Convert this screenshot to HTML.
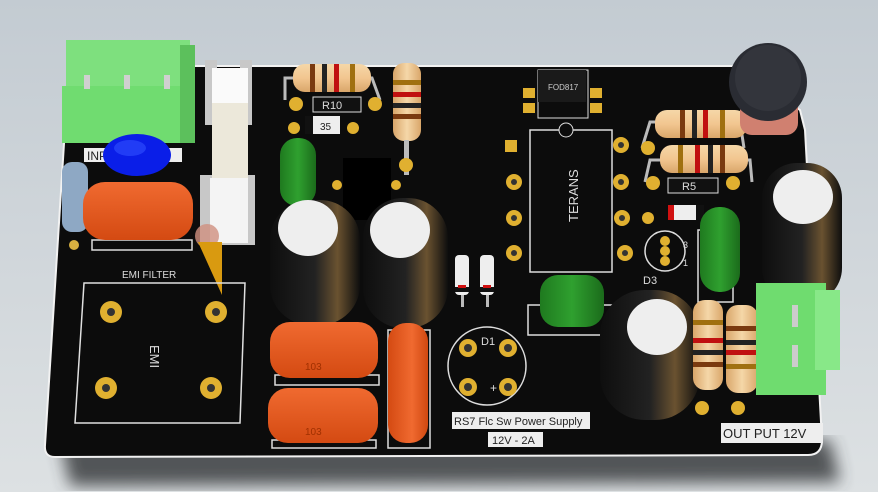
<!DOCTYPE html>
<html><head><meta charset="utf-8"><style>
html,body{margin:0;padding:0;width:878px;height:492px;overflow:hidden;background:#cdd3d8}
svg{display:block}
text{font-family:"Liberation Sans",sans-serif}
</style></head><body>
<svg width="878" height="492" viewBox="0 0 878 492" xmlns="http://www.w3.org/2000/svg">
<defs>
<linearGradient id="bg" x1="0" y1="0" x2="0" y2="1"><stop offset="0" stop-color="#c3cbd2"/><stop offset="1" stop-color="#dde1e3"/></linearGradient>
<linearGradient id="org" x1="0" y1="0" x2="0" y2="1"><stop offset="0" stop-color="#f06a30"/><stop offset="1" stop-color="#d44a12"/></linearGradient>
<linearGradient id="orgv" x1="0" y1="0" x2="1" y2="0"><stop offset="0" stop-color="#d44a12"/><stop offset=".6" stop-color="#f06a30"/><stop offset="1" stop-color="#d04810"/></linearGradient>
<linearGradient id="grn" x1="0" y1="0" x2="1" y2="0"><stop offset="0" stop-color="#1f7a1f"/><stop offset=".5" stop-color="#2fa02f"/><stop offset="1" stop-color="#1b6b1b"/></linearGradient>
<linearGradient id="res" x1="0" y1="0" x2="0" y2="1"><stop offset="0" stop-color="#f5d7a8"/><stop offset=".5" stop-color="#f2c690"/><stop offset="1" stop-color="#d9a66a"/></linearGradient>
<linearGradient id="resv" x1="0" y1="0" x2="1" y2="0"><stop offset="0" stop-color="#d9a66a"/><stop offset=".5" stop-color="#f5d7a8"/><stop offset="1" stop-color="#d9a66a"/></linearGradient>
<linearGradient id="cap" x1="0" y1="0" x2="1" y2="0"><stop offset="0" stop-color="#0e0e0e"/><stop offset=".5" stop-color="#222"/><stop offset=".75" stop-color="#6a5230"/><stop offset="1" stop-color="#0e0e0e"/></linearGradient>
<filter id="sh"><feGaussianBlur stdDeviation="8"/></filter>
</defs>
<rect width="878" height="492" fill="url(#bg)"/>
<path d="M60 440 L830 440 L840 482 L70 486 Z" fill="#3a3d40" filter="url(#sh)" opacity=".85"/>
<path d="M70 66 L735 66 L800 110 L805 130 L822 440 Q822 455 808 455 L55 457 Q44 457 45 445 L68 80 Z" fill="#0c0c0c" stroke="#f2f2f2" stroke-width="2"/>
<!-- left green terminal -->
<rect x="66" y="40" width="124" height="48" fill="#7ee07e"/>
<rect x="62" y="86" width="128" height="57" fill="#70dc70"/>
<rect x="180" y="45" width="15" height="98" fill="#5cc05c"/>
<rect x="84" y="75" width="6" height="14" fill="#d0d0d0"/><rect x="124" y="75" width="6" height="14" fill="#d0d0d0"/><rect x="164" y="75" width="6" height="14" fill="#d0d0d0"/>
<rect x="84" y="148" width="98" height="14" fill="#eee"/>
<text x="87" y="160" font-size="12" fill="#222">INPUT AC</text>
<ellipse cx="137" cy="155" rx="34" ry="21" fill="#0a1ee8"/>
<ellipse cx="130" cy="148" rx="16" ry="8" fill="#3050ff" opacity=".6"/>
<rect x="62" y="162" width="26" height="70" rx="10" fill="#8ea8c4"/>
<circle cx="74" cy="245" r="5" fill="#d8b040"/>
<rect x="92" y="240" width="100" height="10" fill="none" stroke="#ddd" stroke-width="1.5"/>
<rect x="83" y="182" width="110" height="58" rx="22" fill="url(#org)"/>
<!-- fuse -->
<rect x="205" y="60" width="12" height="65" fill="#c8c8c8"/><rect x="240" y="60" width="12" height="65" fill="#c8c8c8"/>
<rect x="200" y="175" width="55" height="70" fill="#c8c8c8"/>
<rect x="212" y="68" width="36" height="175" rx="6" fill="#ece8da"/>
<rect x="212" y="68" width="36" height="35" fill="#fafafa"/>
<rect x="210" y="178" width="38" height="65" fill="#f4f4f4"/>
<circle cx="207" cy="236" r="12" fill="#d09080" opacity=".8"/>
<polygon points="198,242 222,242 222,295" fill="#d99a10"/>
<!-- EMI -->
<text x="122" y="278" font-size="10" fill="#ddd">EMI FILTER</text>
<path d="M84 283 L245 283 L240 423 L75 423 Z" fill="none" stroke="#e0e0e0" stroke-width="1.5"/>
<g fill="#e0b030"><circle cx="111" cy="312" r="11"/><circle cx="216" cy="312" r="11"/><circle cx="106" cy="388" r="11"/><circle cx="211" cy="388" r="11"/></g>
<g fill="#333"><circle cx="111" cy="312" r="4"/><circle cx="216" cy="312" r="4"/><circle cx="106" cy="388" r="4"/><circle cx="211" cy="388" r="4"/></g>
<text x="0" y="0" font-size="13" fill="#ddd" transform="translate(150,345) rotate(90)">EMI</text>
<!-- R10 -->
<path d="M285 100 L285 78 L372 78 L380 100" fill="none" stroke="#bbb" stroke-width="3"/>
<rect x="293" y="64" width="78" height="28" rx="12" fill="url(#res)"/>
<rect x="310" y="64" width="5" height="28" fill="#7a3a10"/><rect x="322" y="64" width="5" height="28" fill="#222"/><rect x="334" y="64" width="5" height="28" fill="#c01010"/><rect x="350" y="64" width="5" height="28" fill="#a07010"/>
<circle cx="296" cy="104" r="7" fill="#e0b030"/><circle cx="375" cy="104" r="7" fill="#e0b030"/>
<rect x="313" y="97" width="48" height="15" fill="#111" stroke="#ddd"/><text x="322" y="109" font-size="11" fill="#ddd">R10</text>
<rect x="305" y="116" width="35" height="18" fill="#eee"/><rect x="305" y="116" width="8" height="18" fill="#111"/><text x="320" y="130" font-size="10" fill="#222">35</text>
<circle cx="294" cy="128" r="6" fill="#e0b030"/><circle cx="353" cy="128" r="6" fill="#e0b030"/>
<rect x="393" y="63" width="28" height="78" rx="11" fill="url(#resv)"/>
<rect x="393" y="80" width="28" height="5" fill="#a07010"/><rect x="393" y="92" width="28" height="5" fill="#c01010"/><rect x="393" y="103" width="28" height="5" fill="#222"/><rect x="393" y="114" width="28" height="5" fill="#7a3a10"/>
<rect x="404" y="140" width="5" height="35" fill="#bbb"/>
<circle cx="406" cy="165" r="7" fill="#e0b030"/>
<rect x="280" y="138" width="36" height="68" rx="17" fill="url(#grn)"/>
<rect x="343" y="158" width="48" height="62" fill="#000"/>
<circle cx="337" cy="185" r="5" fill="#e0b030"/><circle cx="396" cy="185" r="5" fill="#e0b030"/>
<!-- big caps left -->
<rect x="270" y="200" width="90" height="125" rx="40" fill="url(#cap)"/>
<ellipse cx="308" cy="228" rx="30" ry="28" fill="#eee"/>
<rect x="363" y="198" width="85" height="130" rx="40" fill="url(#cap)"/>
<ellipse cx="400" cy="230" rx="30" ry="28" fill="#eee"/>
<!-- orange caps -->
<rect x="275" y="375" width="104" height="10" fill="none" stroke="#ddd" stroke-width="1.5"/>
<rect x="270" y="322" width="108" height="56" rx="20" fill="url(#org)"/>
<text x="305" y="370" font-size="10" fill="#a03000">103</text>
<rect x="272" y="440" width="104" height="8" fill="none" stroke="#ddd" stroke-width="1.5"/>
<rect x="268" y="388" width="110" height="55" rx="20" fill="url(#org)"/>
<text x="305" y="435" font-size="10" fill="#a03000">103</text>
<rect x="388" y="330" width="42" height="118" fill="none" stroke="#ddd" stroke-width="1.5"/>
<rect x="388" y="323" width="40" height="120" rx="18" fill="url(#orgv)"/>
<!-- small diodes -->
<rect x="455" y="255" width="14" height="40" rx="4" fill="#eee"/><rect x="455" y="287" width="14" height="5" fill="#111"/><rect x="458" y="285" width="8" height="3" fill="#d01010"/>
<rect x="480" y="255" width="14" height="40" rx="4" fill="#eee"/><rect x="480" y="287" width="14" height="5" fill="#111"/><rect x="483" y="285" width="8" height="3" fill="#d01010"/>
<rect x="461" y="295" width="3" height="12" fill="#bbb"/><rect x="486" y="295" width="3" height="12" fill="#bbb"/>
<!-- D1 -->
<circle cx="487" cy="366" r="39" fill="none" stroke="#ddd" stroke-width="1.5"/>
<g fill="#e0b030"><circle cx="468" cy="348" r="9"/><circle cx="508" cy="348" r="9"/><circle cx="468" cy="387" r="9"/><circle cx="508" cy="387" r="9"/></g>
<g fill="#333"><circle cx="468" cy="348" r="4"/><circle cx="508" cy="348" r="4"/><circle cx="468" cy="387" r="4"/><circle cx="508" cy="387" r="4"/></g>
<text x="481" y="345" font-size="11" fill="#ddd">D1</text>
<text x="490" y="392" font-size="12" fill="#ddd">+</text>
<rect x="452" y="412" width="138" height="17" fill="#eee"/>
<text x="454" y="425" font-size="11" fill="#222">RS7 Flc Sw Power Supply</text>
<rect x="488" y="432" width="55" height="15" fill="#eee"/>
<text x="492" y="444" font-size="11" fill="#222">12V - 2A</text>
<!-- FOD817 -->
<rect x="538" y="70" width="50" height="48" fill="none" stroke="#ddd"/>
<g fill="#e0b030"><rect x="523" y="88" width="12" height="10"/><rect x="523" y="103" width="12" height="10"/><rect x="590" y="88" width="12" height="10"/><rect x="590" y="103" width="12" height="10"/></g>
<rect x="538" y="70" width="48" height="32" fill="#1a1a1a"/>
<text x="548" y="90" font-size="8" fill="#ccc">FOD817</text>
<!-- TERANS -->
<rect x="530" y="130" width="82" height="142" fill="#0c0c0c" stroke="#ddd" stroke-width="1.5"/>
<circle cx="566" cy="130" r="7" fill="#0c0c0c" stroke="#ddd"/>
<text font-size="13" fill="#ddd" transform="translate(578,222) rotate(-90)">TERANS</text>
<rect x="505" y="140" width="12" height="12" fill="#e0b030"/>
<g fill="#e0b030"><circle cx="514" cy="182" r="8"/><circle cx="514" cy="218" r="8"/><circle cx="514" cy="253" r="8"/><circle cx="621" cy="145" r="8"/><circle cx="621" cy="182" r="8"/><circle cx="622" cy="218" r="8"/><circle cx="625" cy="253" r="8"/></g>
<g fill="#333"><circle cx="514" cy="182" r="3"/><circle cx="514" cy="218" r="3"/><circle cx="514" cy="253" r="3"/><circle cx="621" cy="145" r="3"/><circle cx="621" cy="182" r="3"/><circle cx="622" cy="218" r="3"/><circle cx="625" cy="253" r="3"/></g>
<rect x="528" y="305" width="85" height="30" fill="none" stroke="#ddd" stroke-width="1.5"/>
<rect x="540" y="275" width="64" height="52" rx="18" fill="url(#grn)"/>
<!-- resistors top right -->
<path d="M642 148 L650 122 L740 122 L744 148" fill="none" stroke="#bbb" stroke-width="3"/>
<rect x="655" y="110" width="92" height="28" rx="12" fill="url(#res)"/>
<rect x="680" y="110" width="5" height="28" fill="#7a3a10"/><rect x="692" y="110" width="5" height="28" fill="#222"/><rect x="703" y="110" width="5" height="28" fill="#c01010"/><rect x="720" y="110" width="5" height="28" fill="#a07010"/>
<circle cx="648" cy="148" r="7" fill="#e0b030"/>
<path d="M645 182 L650 160 L750 160 L752 182" fill="none" stroke="#bbb" stroke-width="3"/>
<rect x="660" y="145" width="88" height="28" rx="12" fill="url(#res)"/>
<rect x="678" y="145" width="5" height="28" fill="#a07010"/><rect x="695" y="145" width="5" height="28" fill="#c01010"/><rect x="708" y="145" width="5" height="28" fill="#222"/><rect x="720" y="145" width="5" height="28" fill="#7a3a10"/>
<circle cx="653" cy="183" r="7" fill="#e0b030"/><circle cx="733" cy="183" r="7" fill="#e0b030"/>
<rect x="668" y="178" width="50" height="15" fill="#111" stroke="#ddd"/><text x="682" y="190" font-size="11" fill="#ddd">R5</text>
<rect x="668" y="205" width="35" height="15" rx="3" fill="#eee"/><rect x="668" y="205" width="6" height="15" fill="#d01010"/><rect x="696" y="205" width="8" height="15" fill="#111"/>
<circle cx="648" cy="218" r="6" fill="#e0b030"/>
<circle cx="665" cy="251" r="20" fill="none" stroke="#ddd" stroke-width="1.5"/>
<g fill="#e0b030"><circle cx="665" cy="241" r="5"/><circle cx="665" cy="251" r="5"/><circle cx="665" cy="261" r="5"/></g>
<text x="643" y="284" font-size="11" fill="#ddd">D3</text>
<text x="683" y="248" font-size="9" fill="#ddd">3</text><text x="683" y="266" font-size="9" fill="#ddd">1</text>
<!-- inductor -->
<rect x="740" y="95" width="58" height="40" rx="12" fill="#d08070"/>
<circle cx="768" cy="82" r="39" fill="#2a2c33"/>
<circle cx="768" cy="78" r="33" fill="#33353c"/>
<!-- right big cap -->
<rect x="762" y="163" width="80" height="140" rx="35" fill="url(#cap)"/>
<ellipse cx="803" cy="197" rx="30" ry="27" fill="#eee"/>
<rect x="698" y="230" width="35" height="72" fill="none" stroke="#ddd" stroke-width="1.5"/>
<rect x="700" y="207" width="40" height="85" rx="19" fill="url(#grn)"/>
<rect x="600" y="290" width="100" height="130" rx="45" fill="url(#cap)"/>
<ellipse cx="657" cy="327" rx="30" ry="28" fill="#eee"/>
<!-- vertical resistors -->
<rect x="693" y="300" width="30" height="90" rx="12" fill="url(#resv)"/>
<rect x="693" y="320" width="30" height="5" fill="#a07010"/><rect x="693" y="338" width="30" height="5" fill="#c01010"/><rect x="693" y="350" width="30" height="5" fill="#222"/><rect x="693" y="362" width="30" height="5" fill="#7a3a10"/>
<rect x="726" y="305" width="32" height="88" rx="12" fill="url(#resv)"/>
<rect x="726" y="326" width="32" height="5" fill="#7a3a10"/><rect x="726" y="340" width="32" height="5" fill="#222"/><rect x="726" y="350" width="32" height="5" fill="#c01010"/><rect x="726" y="364" width="32" height="5" fill="#a07010"/>
<circle cx="702" cy="408" r="7" fill="#e0b030"/><circle cx="738" cy="408" r="7" fill="#e0b030"/>
<rect x="756" y="283" width="70" height="112" fill="#6fdc6f"/>
<rect x="815" y="290" width="25" height="80" fill="#88e888"/>
<rect x="792" y="305" width="6" height="22" fill="#ccc"/><rect x="792" y="345" width="6" height="22" fill="#ccc"/>
<rect x="721" y="423" width="102" height="20" fill="#eee"/>
<text x="723" y="438" font-size="13" fill="#222">OUT PUT 12V</text>
</svg>
</body></html>
